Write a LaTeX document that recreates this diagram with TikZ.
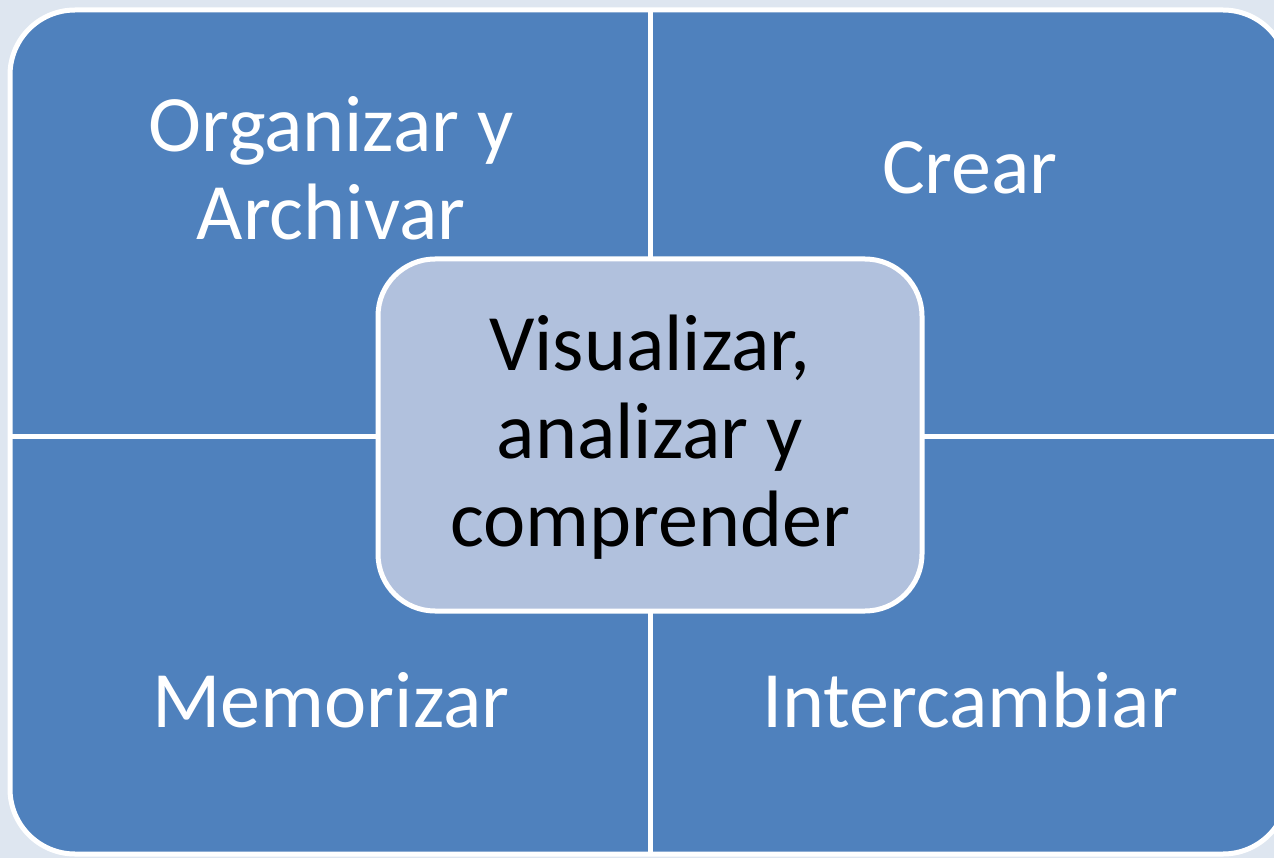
\documentclass[tikz,border=0pt]{standalone}
\usepackage{fontspec}
\setmainfont{Carlito}
\definecolor{bgc}{HTML}{DEE6F0}
\definecolor{quad}{HTML}{4F81BD}
\definecolor{ctr}{HTML}{B1C1DD}
\begin{document}
\begin{tikzpicture}[x=1pt,y=-1pt,
  qtext/.style={text=white,font=\fontsize{80}{88}\selectfont,align=center,inner sep=0pt},
  ctext/.style={text=black,font=\fontsize{80}{88}\selectfont,align=center,inner sep=0pt},
  qline/.style={draw=white,line width=5pt}]
\useasboundingbox (0,0) rectangle (1274,858);
\clip (0,0) rectangle (1274,858);
\fill[bgc] (0,0) rectangle (1274,858);
% outer rounded shape (four quadrants)
\path[fill=quad,qline,rounded corners=65pt] (10,10) rectangle (1288,854);
% dividers
\draw[qline] (650,10) -- (650,854);
\draw[qline] (10,436) -- (1288,436);
% center box
\path[fill=ctr,qline,rounded corners=57pt] (378,259) rectangle (922,611);
% texts
\node[qtext] (oa) at (331,168) {Organizar y\\Archivar};
\node[qtext] (cr) at (970,168) {Crear};
\node[qtext] (me) at (331,700) {Memorizar};
\node[qtext] (in) at (970,700) {Intercambiar};
\node[ctext] (vi) at (650,437) {Visualizar,\\analizar y\\comprender};
\end{tikzpicture}
\end{document}
